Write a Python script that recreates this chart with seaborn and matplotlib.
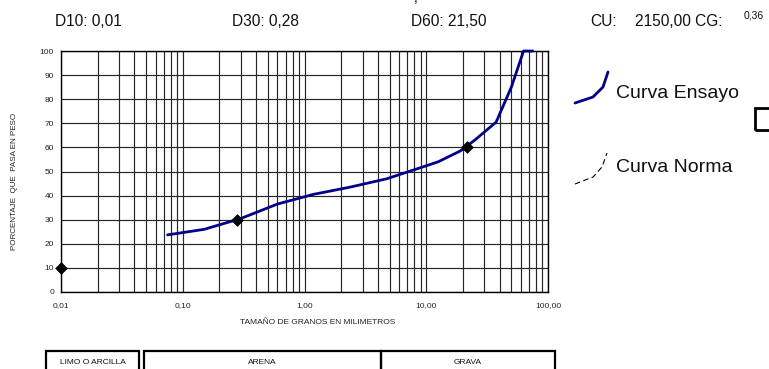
import matplotlib
matplotlib.use("Agg")
import matplotlib.pyplot as plt
from matplotlib.lines import Line2D
from matplotlib.patches import Rectangle
from matplotlib.ticker import FixedLocator, NullFormatter, LogLocator
import numpy as np
import pandas as pd
import seaborn as sns

# Granulometric curve: sieve openings (mm) and percentage passing
sieve_mm = [75, 63, 50, 37.5, 25, 19, 12.5, 9.5, 4.75, 2.36, 1.18, 0.6, 0.3, 0.15, 0.075]
passing_pct = [100, 100, 85, 70.5, 63, 58.5, 54, 52, 47, 43.5, 40.5, 36.5, 30.5, 26, 23.7]

# Characteristic diameters D10, D30, D60
d_sizes = [0.01, 0.28, 21.5]
d_pct = [10, 30, 60]

x_tick_values = [0.01, 0.1, 1, 10, 100]
x_tick_labels = ["0,01", "0,10", "1,00", "10,00", "100,00"]
y_tick_values = list(range(0, 101, 10))

header_items = [("D10: 0,01", 55), ("D30: 0,28", 232), ("D60: 21,50", 411),
                ("CU:", 590), ("2150,00 CG:", 635)]
cg_value = "0,36"

soil_bands = [("LIMO O ARCILLA", 46, 139), ("ARENA", 144, 381), ("GRAVA", 381, 555)]

W, H = 769, 369
def fx(px):
    return px / W
def fy(py):
    return 1 - py / H

sns.set_style("white")
plt.rcParams["font.family"] = ["Liberation Sans", "DejaVu Sans"]

fig = plt.figure(figsize=(W / 100, H / 100), dpi=100)
ax = fig.add_axes([fx(61), fy(292), fx(548) - fx(61), fy(51) - fy(292)])

curve = pd.DataFrame({"mm": sieve_mm, "pct": passing_pct})
points = pd.DataFrame({"mm": d_sizes, "pct": d_pct})

ax.set_xscale("log")
ax.set_xlim(0.01, 100)
ax.set_ylim(0, 100)

sns.lineplot(data=curve, x="mm", y="pct", ax=ax, color="#00008B", lw=2.0,
             sort=False, estimator=None, zorder=4, clip_on=False)
sns.scatterplot(data=points, x="mm", y="pct", ax=ax, marker="D", color="black",
                s=36, edgecolor="black", zorder=5, clip_on=False)

# log grid: decades plus 2..9 subdivisions
ax.xaxis.set_major_locator(FixedLocator(x_tick_values))
ax.set_xticklabels(x_tick_labels)
ax.xaxis.set_minor_locator(LogLocator(base=10, subs=np.arange(2, 10)))
ax.xaxis.set_minor_formatter(NullFormatter())
ax.set_yticks(y_tick_values)
ax.grid(which="both", axis="x", color="#262626", lw=0.85)
ax.grid(which="major", axis="y", color="#262626", lw=0.85)
ax.set_axisbelow(True)

ax.tick_params(axis="both", which="major", labelsize=6, length=3, width=0.8,
               color="black", labelcolor="#222222")
ax.tick_params(axis="x", which="major", pad=4)
ax.tick_params(axis="y", which="major", pad=2)
ax.tick_params(axis="x", which="minor", length=0)
for s in ax.spines.values():
    s.set_color("black")
    s.set_linewidth(1.0)

ax.set_xlabel("")
ax.set_ylabel("")
fig.text(fx(318), fy(323), "TAMAÑO DE GRANOS EN MILIMETROS", ha="center",
         va="center", fontsize=6, color="#222222")
fig.text(fx(15), fy(181), "PORCENTAJE  QUE  PASA EN PESO", ha="center",
         va="center", rotation=90, fontsize=5.8, color="#222222")

# header with D values
for txt, px in header_items:
    fig.text(fx(px), fy(21), txt, ha="left", va="center", fontsize=11.2, color="#111111")
fig.text(fx(744), fy(16), cg_value, ha="left", va="center", fontsize=7.5, color="#111111")
fig.text(fx(414), fy(2), ",", ha="left", va="baseline", fontsize=10, color="#111111")

# legend samples
fig.add_artist(Line2D([fx(575), fx(593), fx(603), fx(608)],
                      [fy(103), fy(97), fy(87), fy(72)],
                      color="#00008B", lw=2.0))
fig.add_artist(Line2D([fx(575), fx(593), fx(602), fx(607)],
                      [fy(184), fy(177), fy(167), fy(153)],
                      color="black", lw=0.8, ls=(0, (5, 3))))
fig.text(fx(616), fy(93), "Curva Ensayo", ha="left", va="center", fontsize=14, color="#111111")
fig.text(fx(616), fy(167), "Curva Norma", ha="left", va="center", fontsize=14, color="#111111")
fig.add_artist(Rectangle((fx(755), fy(130)), fx(40), fy(108) - fy(130),
                         fill=False, ec="black", lw=2.0, clip_on=False))

# soil classification band
for name, x0, x1 in soil_bands:
    fig.add_artist(Rectangle((fx(x0), fy(385)), fx(x1 - x0), fy(351) - fy(385),
                             fill=False, ec="black", lw=1.6))
    fig.text(fx((x0 + x1) / 2), fy(362), name, ha="center", va="center",
             fontsize=6, color="#111111")

fig.savefig("out.png", dpi=100)
